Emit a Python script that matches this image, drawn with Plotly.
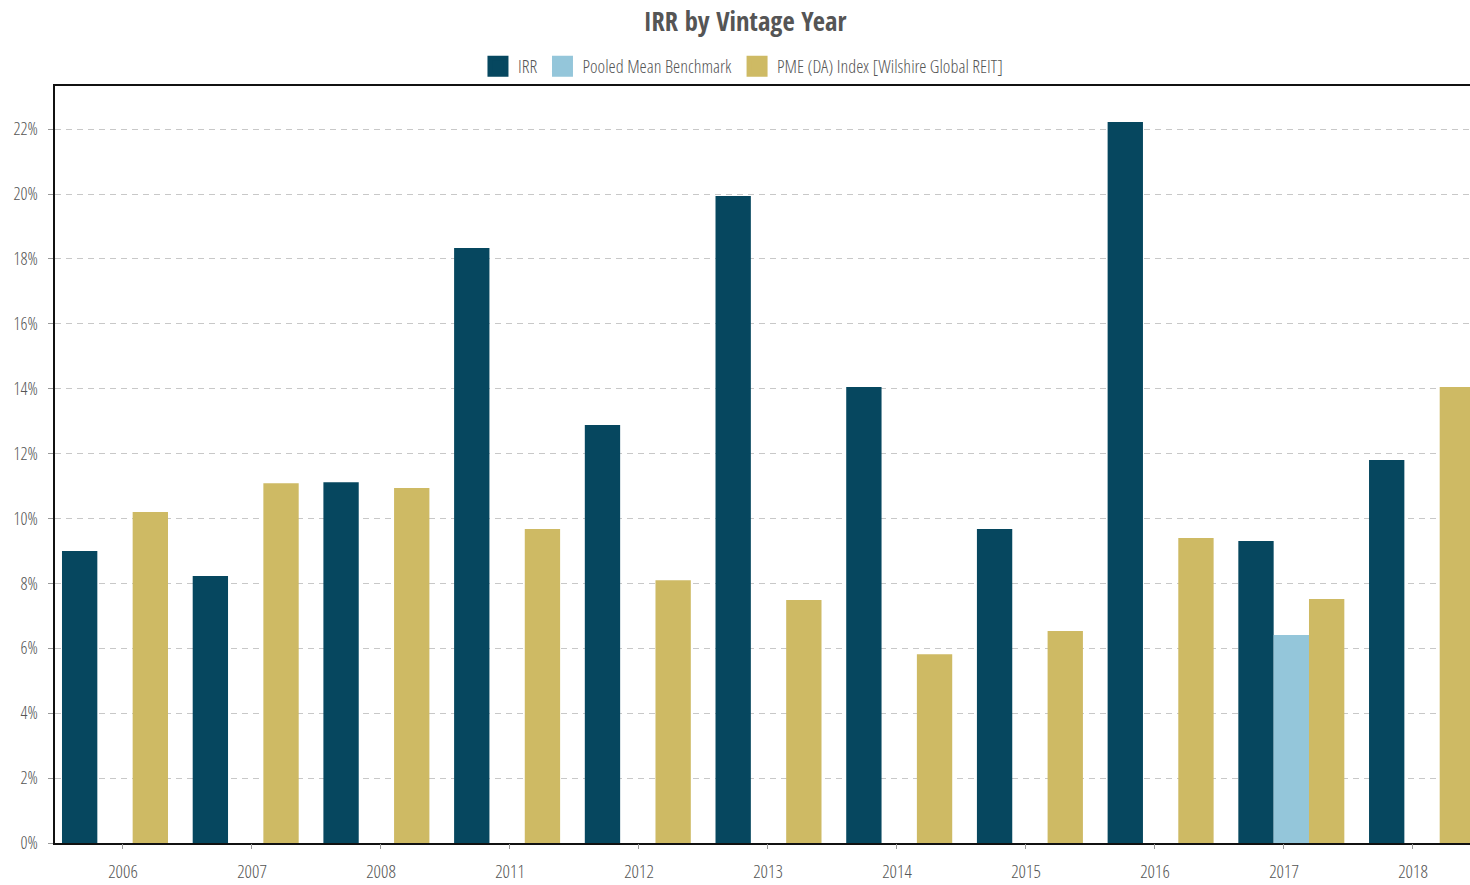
import plotly.graph_objects as go

# Vintage years and returns (in percent)
years = ["2006", "2007", "2008", "2011", "2012", "2013", "2014", "2015", "2016", "2017", "2018"]
irr = [9.0, 8.23, 11.12, 18.34, 12.88, 19.94, 14.05, 9.68, 22.22, 9.31, 11.80]
pooled_mean = [None, None, None, None, None, None, None, None, None, 6.41, None]
pme_index = [10.2, 11.09, 10.94, 9.68, 8.10, 7.49, 5.82, 6.53, 9.40, 7.52, 14.05]

series_names = ["IRR", "Pooled Mean Benchmark", "PME (DA) Index [Wilshire Global REIT]"]
series_colors = ["#06475F", "#94C6DA", "#CEBA64"]
series_values = [irr, pooled_mean, pme_index]

TITLE_FONT = "Open Sans Condensed, DejaVu Sans Condensed, sans-serif"
FONT = "Open Sans Condensed Light, Open Sans Light, Liberation Sans Narrow, DejaVu Sans Condensed, sans-serif"
TEXT = "#555555"

fig = go.Figure()
for name, color, vals in zip(series_names, series_colors, series_values):
    fig.add_trace(go.Bar(
        x=years, y=vals, name=name, marker=dict(color=color, line=dict(width=0)),
        showlegend=False, hovertemplate="%{x}: %{y:.2f}%<extra>" + name + "</extra>",
    ))
# Legend entries with larger square swatches (placed on the label axis)
for name, color in zip(series_names, series_colors):
    fig.add_trace(go.Scatter(
        x=[None], y=[None], mode="markers", name=name, xaxis="x2",
        marker=dict(symbol="square", size=20, color=color, line=dict(color=color, width=5)),
        showlegend=True,
    ))

fig.update_layout(
    width=1470, height=885,
    margin=dict(l=55, r=0, t=86, b=42),
    paper_bgcolor="white", plot_bgcolor="white",
    barmode="group", bargap=0.189, bargroupgap=0,
    font=dict(family=FONT, color=TEXT, size=17),
    title=dict(text="IRR by Vintage Year", x=0.5068, xanchor="center",
               y=(885 - 22) / 885, yanchor="middle",
               font=dict(family=TITLE_FONT, size=26.5, color=TEXT)),
    legend=dict(orientation="h", x=0.4862, xanchor="center", y=1.026, yanchor="middle",
                font=dict(family=FONT, size=18.3, color=TEXT),
                itemwidth=30, bgcolor="rgba(0,0,0,0)"),
    # bar axis: category slots
    xaxis=dict(type="category", range=[-0.459, 10.367],
               showline=True, linecolor="#111111", linewidth=1.5, mirror=True,
               showticklabels=False, ticks="", showgrid=False),
    # label axis: year labels with their own spacing
    xaxis2=dict(overlaying="x", side="bottom", range=[-0.527, 10.442],
                tickmode="array", tickvals=list(range(len(years))), ticktext=years,
                ticks="outside", ticklen=5, tickcolor="#999999",
                ticklabelstandoff=7,
                tickfont=dict(family=FONT, size=18.5, color=TEXT),
                showgrid=False, zeroline=False, showline=False),
    yaxis=dict(range=[0, 23.33], dtick=2, ticksuffix="%",
               showline=True, linecolor="#111111", linewidth=1.5,
               ticks="outside", ticklen=5, tickcolor="#999999",
               ticklabelstandoff=7,
               tickfont=dict(family=FONT, size=17.5, color=TEXT),
               showgrid=True, gridcolor="#C8C8C8", gridwidth=1, griddash="6px,5px",
               zeroline=False),
)

fig.write_html("out.html")
